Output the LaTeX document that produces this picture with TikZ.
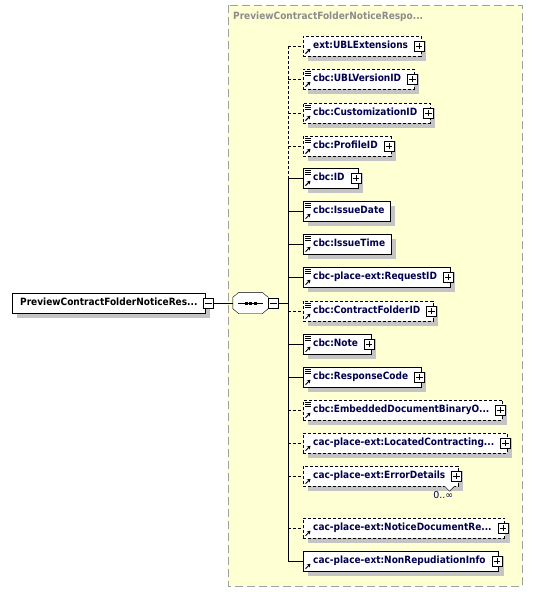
\documentclass[tikz,border=0pt]{standalone}
\usepackage{fontspec}
\setmainfont{DejaVu Sans}
\newfontfamily\labelfont{DejaVu Sans Condensed Bold}
\usetikzlibrary{shadows,arrows.meta}
\definecolor{seqyellow}{HTML}{FFFFD4}
\definecolor{labelblue}{HTML}{00004D}
\definecolor{shadowgray}{HTML}{C4C4C4}
\definecolor{framegray}{HTML}{A0A0A0}
\definecolor{titlegray}{HTML}{8C8C8C}
\tikzset{
  boxshadow/.style={drop shadow={shadow xshift=5pt, shadow yshift=-5pt, fill=shadowgray, opacity=1}},
  elem/.style={draw, fill=white, anchor=west, minimum height=20pt, inner xsep=0pt, inner ysep=0pt,
    text height=8pt, text depth=2.5pt, text=labelblue, font=\labelfont\fontsize{10}{12}\selectfont,
    execute at begin node={\hspace*{10pt}}, boxshadow},
  opt/.style={dash pattern=on 3pt off 2pt},
  leaf/.style={execute at end node={\hspace*{6pt}}},
  more/.style={execute at end node={\hspace*{13pt}}},
  pm/.style={draw, fill=white, minimum size=10pt, inner sep=0pt},
  rootbox/.style={draw, fill=white, anchor=west, minimum height=20pt, inner xsep=8pt, inner ysep=0pt,
    text height=8pt, text depth=2.5pt, font=\labelfont\fontsize{10}{12}\selectfont, boxshadow},
  seqbox/.style={minimum width=35pt, minimum height=21pt, inner sep=0pt},
}
\begin{document}
\begin{tikzpicture}[x=1pt,y=-1pt]
  \useasboundingbox (0,0) rectangle (533,592);
  % group frame
  \draw[framegray, fill=seqyellow, dash pattern=on 8pt off 4pt] (228,5) rectangle (522,586);
  \node[anchor=west, text=titlegray, inner sep=0pt, font=\labelfont\fontsize{10}{12}\selectfont] (title) at (233,17)
    {PreviewContractFolderNoticeRespo...};
  % root and sequence
  \node[rootbox] (root) at (12,303) {PreviewContractFolderNoticeRes...};
  \node[pm] (rootminus) at ([xshift=3pt]root.east) {};
  \draw ([xshift=2pt]rootminus.west) -- ([xshift=-2pt]rootminus.east);
  \node[seqbox] (seq) at (250.5,303) {};
  \fill[shadowgray, xshift=5pt, yshift=-5pt] ([xshift=6pt]seq.north west) -- ([xshift=-6pt]seq.north east)
    -- ([yshift=-5pt]seq.north east) -- ([yshift=5pt]seq.south east) -- ([xshift=-6pt]seq.south east)
    -- ([xshift=6pt]seq.south west) -- ([yshift=5pt]seq.south west) -- ([yshift=-5pt]seq.north west) -- cycle;
  \draw[fill=white] ([xshift=6pt]seq.north west) -- ([xshift=-6pt]seq.north east)
    -- ([yshift=-5pt]seq.north east) -- ([yshift=5pt]seq.south east) -- ([xshift=-6pt]seq.south east)
    -- ([xshift=6pt]seq.south west) -- ([yshift=5pt]seq.south west) -- ([yshift=-5pt]seq.north west) -- cycle;
  \draw ([xshift=5pt]seq.west) -- ([xshift=-5pt]seq.east);
  \foreach \dx in {-4.5,0,4.5}
    \fill ([xshift=\dx pt-1.5pt,yshift=-1.5pt]seq.center) rectangle +(3,-3);
  \node[pm, anchor=west] (seqminus) at (seq.east) {};
  \draw ([xshift=2pt]seqminus.west) -- ([xshift=-2pt]seqminus.east);
  \draw (rootminus.east) -- (seq.west);
  \coordinate (trunk) at (288,303);
  \draw (seqminus.east) -- (seqminus.east -| trunk);
  % children
  \node[elem, opt, more] (n1) at (303,46) {ext:UBLExtensions};
  \node[elem, opt, more] (n2) at (303,79) {cbc:UBLVersionID};
  \node[elem, opt, more] (n3) at (303,113) {cbc:CustomizationID};
  \node[elem, opt, more] (n4) at (303,146) {cbc:ProfileID};
  \node[elem, more] (n5) at (303,178) {cbc:ID};
  \node[elem, leaf] (n6) at (303,211) {cbc:IssueDate};
  \node[elem, leaf] (n7) at (303,244) {cbc:IssueTime};
  \node[elem, more] (n8) at (303,277) {cbc-place-ext:RequestID};
  \node[elem, opt, more] (n9) at (303,311) {cbc:ContractFolderID};
  \node[elem, more] (n10) at (303,344) {cbc:Note};
  \node[elem, more] (n11) at (303,377) {cbc:ResponseCode};
  \node[elem, opt, more] (n12) at (303,410) {cbc:EmbeddedDocumentBinaryO...};
  \node[elem, opt, more] (n13) at (303,443) {cac-place-ext:LocatedContracting...};
  \node[elem, opt, more] (n14) at (303,476) {cac-place-ext:ErrorDetails};
  \node[elem, opt, more] (n15) at (303,528) {cac-place-ext:NoticeDocumentRe...};
  \node[elem, more] (n16) at (303,561) {cac-place-ext:NonRepudiationInfo};
  % occurrence of ErrorDetails
  \draw[fill=white] ([xshift=-14pt]n14.south east) -- ++(5,5) -- ++(5,-5);
  \node[anchor=north east, text=labelblue, inner sep=0pt, font=\fontsize{9.5}{11}\selectfont] (occ)
    at ([xshift=-5pt,yshift=-5pt]n14.south east) {0..∞};
  % connectors to the trunk
  \draw[opt] (n1.west -| trunk) -- (n5.west -| trunk);
  \draw (n5.west -| trunk) -- (n16.west -| trunk);
  \foreach \n in {n1,n2,n3,n4,n9,n12,n13,n14,n15}
    \draw[opt] (\n.west -| trunk) -- (\n.west);
  \foreach \n in {n5,n6,n7,n8,n10,n11,n16}
    \draw (\n.west -| trunk) -- (\n.west);
  % simple content marks
  \foreach \n in {n2,n3,n4,n5,n6,n7,n8,n9,n10,n11,n12}
    \foreach \dy in {2.5,4.5,6.5}
      \draw[line width=0.6pt] ([xshift=2pt,yshift=-\dy pt]\n.north west) -- ++(6,0);
  % reference arrows
  \foreach \n in {n1,n2,n3,n4,n5,n6,n7,n8,n9,n10,n11,n12,n13,n14,n15,n16}
    \draw[line width=1pt, -{Stealth[length=3.5pt,width=4pt]}] ([xshift=2.5pt,yshift=2.5pt]\n.south west) -- ++(5,-5);
  % expand boxes
  \foreach \n in {n1,n2,n3,n4,n5,n8,n9,n10,n11,n12,n13,n14,n15,n16} {
    \node[pm] (p\n) at ([xshift=-2pt]\n.east) {};
    \draw ([xshift=2pt]p\n.west) -- ([xshift=-2pt]p\n.east);
    \draw ([yshift=-2pt]p\n.north) -- ([yshift=2pt]p\n.south);
  }
\end{tikzpicture}
\end{document}
